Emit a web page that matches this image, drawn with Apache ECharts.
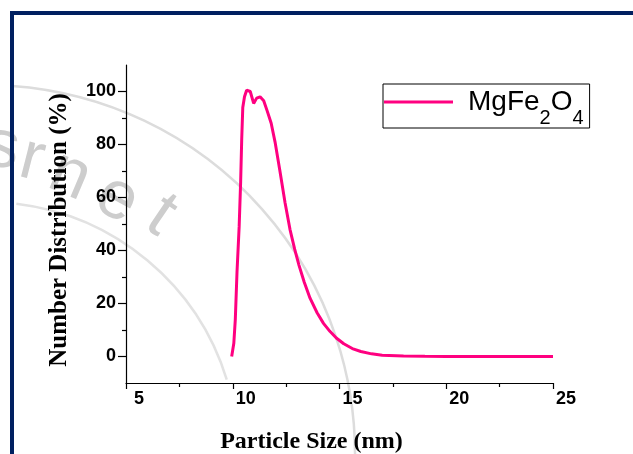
<!DOCTYPE html>
<html>
<head>
<meta charset="utf-8">
<style>
  html, body { margin: 0; padding: 0; background: #fff; }
  #chart { width: 633px; height: 454px; }
</style>
<script src="https://cdn.jsdelivr.net/npm/echarts@6/dist/echarts.min.js"></script>
</head>
<body>
<div id="chart"></div>
<script>
// particle size distribution
const sizeNm = [9.95, 10.05, 10.12, 10.2, 10.3, 10.37, 10.42, 10.47, 10.55, 10.65,
  10.82, 10.98, 11.12, 11.28, 11.45, 11.62, 11.8, 11.98, 12.2, 12.45,
  12.68, 12.9, 13.1, 13.35, 13.62, 13.95, 14.25, 14.55, 14.85, 15.2,
  15.6, 16.0, 16.5, 17.0, 18.0, 19.0, 20.0, 22.0, 25.0];
const numberDist = [0, 5, 14, 32, 49, 66, 82, 94, 98, 100.5,
  100, 95.5, 97.5, 98, 96.5, 92.5, 88, 81, 70.5, 58,
  48, 40.5, 34.5, 28, 22, 16.5, 12.5, 9.5, 7, 4.8,
  3, 1.9, 1, 0.5, 0.15, 0.05, 0, 0, 0];
const yMajorTicks = [0, 20, 40, 60, 80, 100];
const yMinorTicks = [10, 30, 50, 70, 90];
const seriesName = 'MgFe2O4';

const chart = echarts.init(document.getElementById('chart'));

const sansFont = '"Liberation Sans", Arial, sans-serif';
const serifFont = '"Liberation Serif", "Times New Roman", serif';
const pink = '#ff0080';

// faint watermark letters along the arc
const wmLetters = [
  { ch: 's', x: 2, y: 148, r: -0.15 },
  { ch: 'r', x: 32, y: 160, r: -0.25 },
  { ch: 'n', x: 70, y: 176, r: -0.4 },
  { ch: 'e', x: 117, y: 199, r: -0.5 },
  { ch: 't', x: 161, y: 216, r: -0.6 }
];

const option = {
  backgroundColor: '#fff',
  animation: false,
  grid: { left: 126, top: 65, right: 80, bottom: 71, outerBoundsMode: 'none' },
  graphic: [
    {
      type: 'arc', z: -10, silent: true,
      shape: { cx: -14, cy: 454, r: 369, startAngle: -1.5, endAngle: 0.05 },
      style: { fill: null, stroke: '#dcdcdc', lineWidth: 2.5 }
    },
    {
      type: 'arc', z: -10, silent: true,
      shape: { cx: -14, cy: 454, r: 252, startAngle: -1.45, endAngle: -0.3 },
      style: { fill: null, stroke: '#e2e2e2', lineWidth: 2.5 }
    },
    ...wmLetters.map(l => ({
      type: 'text', z: -10, silent: true,
      x: l.x, y: l.y, rotation: l.r,
      style: { text: l.ch, font: '68px ' + sansFont, fill: '#cdcdcd', align: 'center', verticalAlign: 'middle' }
    })),
    // dark frame, top and left
    { type: 'rect', z: 100, shape: { x: 10, y: 11, width: 623, height: 4 }, style: { fill: '#002060' } },
    { type: 'rect', z: 100, shape: { x: 10, y: 11, width: 4, height: 443 }, style: { fill: '#002060' } }
  ],
  legend: {
    left: 383,
    top: 84,
    orient: 'vertical',
    padding: [1, 6, 0, 1],
    borderColor: '#000',
    borderWidth: 1,
    icon: 'rect',
    itemWidth: 69,
    itemHeight: 3,
    formatter: () => '{p|}MgFe{s|2}O{s|4}',
    textStyle: {
      fontFamily: sansFont,
      fontSize: 28,
      color: '#000',
      lineHeight: 34,
      rich: {
        p: { width: 10, lineHeight: 34 },
        s: { fontFamily: sansFont, fontSize: 20, color: '#000', lineHeight: 34, height: 2, verticalAlign: 'bottom' }
      }
    },
    data: [seriesName]
  },
  xAxis: {
    type: 'value',
    min: 5,
    max: 25,
    interval: 5,
    name: 'Particle Size (nm)',
    nameLocation: 'middle',
    nameGap: 47,
    nameTextStyle: { fontFamily: serifFont, fontWeight: 'bold', fontSize: 24, color: '#000', padding: [0, 56, 0, 0] },
    axisLine: { show: true, onZero: false, lineStyle: { color: '#000', width: 1.2 } },
    axisTick: { show: true, length: 6, lineStyle: { color: '#000', width: 1.2 } },
    minorTick: { show: true, splitNumber: 2, length: 4, lineStyle: { color: '#000', width: 1.2 } },
    splitLine: { show: false },
    axisLabel: { fontFamily: sansFont, fontWeight: 'bold', fontSize: 18, color: '#000', margin: 7, padding: [0, 0, 0, 26] }
  },
  yAxis: [
    {
      type: 'value',
      position: 'left',
      min: -10,
      max: 110,
      name: 'Number Distribution (%)',
      nameLocation: 'middle',
      nameGap: 54,
      nameTextStyle: { fontFamily: serifFont, fontWeight: 'bold', fontSize: 25, color: '#000', padding: [0, 12, 0, 0] },
      axisLine: { show: true, onZero: false, lineStyle: { color: '#000', width: 1.2 } },
      axisTick: { show: true, length: 8, customValues: yMajorTicks, lineStyle: { color: '#000', width: 1.2 } },
      splitLine: { show: false },
      axisLabel: { fontFamily: sansFont, fontWeight: 'bold', fontSize: 18, color: '#000', margin: 10, customValues: yMajorTicks }
    },
    {
      type: 'value',
      position: 'left',
      offset: 0,
      min: -10,
      max: 110,
      axisLine: { show: false },
      axisTick: { show: true, length: 4, customValues: yMinorTicks, lineStyle: { color: '#000', width: 1.2 } },
      splitLine: { show: false },
      axisLabel: { show: false }
    }
  ],
  series: [
    {
      name: seriesName,
      type: 'line',
      symbol: 'none',
      smooth: false,
      lineStyle: { color: pink, width: 3 },
      itemStyle: { color: pink },
      data: sizeNm.map((x, i) => [x, numberDist[i]])
    }
  ]
};

chart.setOption(option);
</script>
</body>
</html>
